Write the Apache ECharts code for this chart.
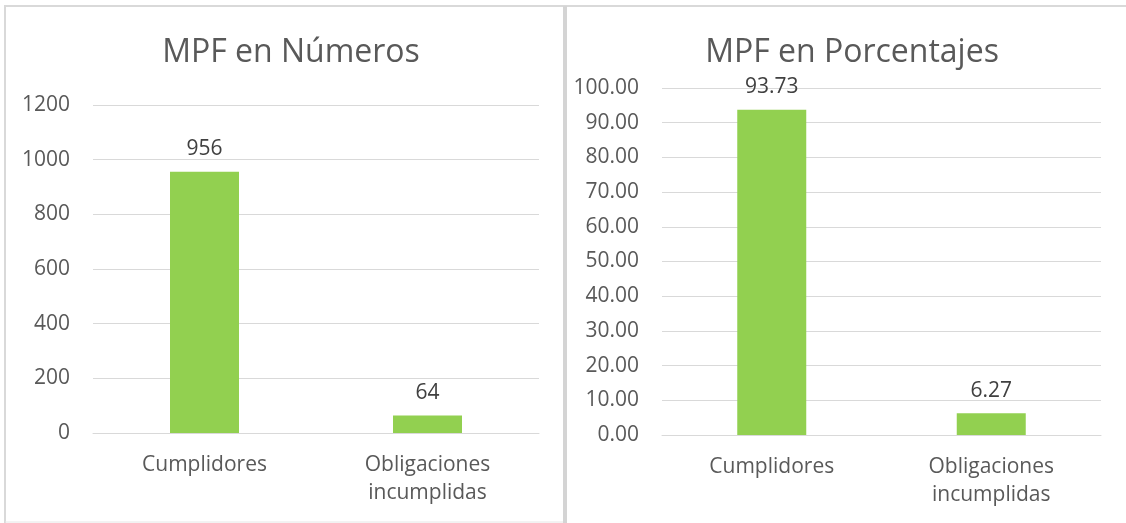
<!DOCTYPE html>
<html>
<head>
    <meta charset="utf-8">
    <title>MPF</title>
    <style>
        html, body { margin: 0; padding: 0; background: #ffffff; }
    </style>
</head>
<body>
<script src="https://cdn.jsdelivr.net/npm/echarts@6/dist/echarts.min.js" type="text/javascript" charset="utf-8"></script>
<!-- 为 ECharts 准备一个定义了宽高的 DOM -->
<div id="main" style="width: 1126px;height:523px;"></div>
<script type="text/javascript">
    // 数据
    var categorias = ['Cumplidores', 'Obligaciones\nincumplidas'];
    var numeros = [956, 64];
    var porcentajes = [93.73, 6.27];
    var titulos = ['MPF en Números', 'MPF en Porcentajes'];

    var verde = '#92d050';
    var gris = '#595959';
    var linea = '#d9d9d9';
    var fuente = 'Open Sans';

    function ejeX(idx) {
        return {
            type: 'category',
            gridIndex: idx,
            data: categorias,
            axisTick: { show: false },
            axisLine: { lineStyle: { color: linea, width: 1 } },
            axisLabel: { color: gris, fontSize: 21, fontFamily: fuente, lineHeight: 28, margin: 18 }
        };
    }

    function ejeY(idx, max, interval, decimales) {
        return {
            type: 'value',
            gridIndex: idx,
            min: 0,
            max: max,
            interval: interval,
            axisLine: { show: false },
            axisTick: { show: false },
            splitLine: { lineStyle: { color: linea, width: 1 } },
            axisLabel: {
                color: gris, fontSize: 21, fontFamily: fuente, margin: 23,
                formatter: function (v) { return v.toFixed(decimales); }
            }
        };
    }

    function serie(idx, datos, decimales) {
        return {
            type: 'bar',
            xAxisIndex: idx,
            yAxisIndex: idx,
            data: datos,
            barWidth: 69,
            itemStyle: { color: verde },
            label: {
                show: true,
                position: 'top',
                distance: 12,
                color: '#404040',
                fontSize: 21,
                fontFamily: fuente,
                formatter: function (p) { return p.value.toFixed(decimales); }
            }
        };
    }

    var myChart = echarts.init(document.getElementById('main'));

    var option = {
        animation: false,
        backgroundColor: '#ffffff',
        title: [
            { text: titulos[0], left: 286, top: 32, textAlign: 'center',
              textStyle: { color: gris, fontSize: 32, fontWeight: 'normal', fontFamily: fuente } },
            { text: titulos[1], left: 847, top: 32, textAlign: 'center',
              textStyle: { color: gris, fontSize: 32, fontWeight: 'normal', fontFamily: fuente } }
        ],
        grid: [
            { left: 93, top: 105, width: 446, height: 328 },
            { left: 662, top: 88, width: 439, height: 347 }
        ],
        xAxis: [ejeX(0), ejeX(1)],
        yAxis: [ejeY(0, 1200, 200, 0), ejeY(1, 100, 10, 2)],
        series: [serie(0, numeros, 0), serie(1, porcentajes, 2)],
        graphic: [
            // bordes de los paneles
            { type: 'line', shape: { x1: 4, y1: 6, x2: 1126, y2: 6 }, style: { stroke: linea, lineWidth: 2 } },
            { type: 'line', shape: { x1: 5, y1: 6, x2: 5, y2: 523 }, style: { stroke: linea, lineWidth: 2 } },
            { type: 'line', shape: { x1: 5, y1: 522, x2: 565, y2: 522 }, style: { stroke: '#e6e6e6', lineWidth: 1 } },
            { type: 'line', shape: { x1: 565, y1: 6, x2: 565, y2: 523 }, style: { stroke: '#d4d4d4', lineWidth: 4 } }
        ]
    };

    myChart.setOption(option);
</script>
</body>
</html>
